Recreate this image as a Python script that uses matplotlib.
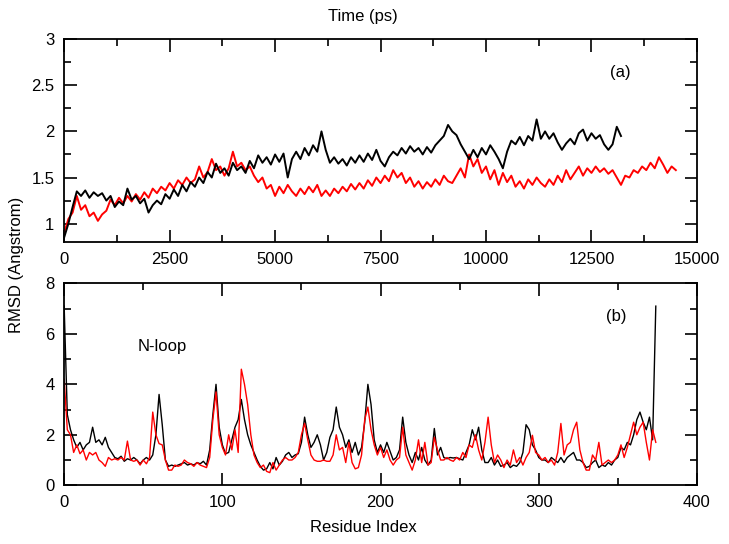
import numpy as np
import matplotlib
matplotlib.use("Agg")
import matplotlib.pyplot as plt
from matplotlib.ticker import MultipleLocator, FormatStrFormatter

plt.rcParams['font.family'] = ['Liberation Sans', 'DejaVu Sans']

# (a) RMSD vs time, one value every 100 ps
rmsd_black = [
    0.85, 1.00, 1.18, 1.35, 1.30, 1.36, 1.28, 1.34, 1.30, 1.33,
    1.25, 1.30, 1.18, 1.24, 1.20, 1.38, 1.26, 1.30, 1.22, 1.27,
    1.12, 1.20, 1.25, 1.21, 1.32, 1.27, 1.37, 1.30, 1.42, 1.35,
    1.45, 1.40, 1.50, 1.44, 1.56, 1.50, 1.65, 1.55, 1.60, 1.52,
    1.66, 1.58, 1.62, 1.55, 1.68, 1.60, 1.74, 1.66, 1.72, 1.64,
    1.75, 1.67, 1.76, 1.50, 1.70, 1.78, 1.70, 1.82, 1.74, 1.85,
    1.78, 2.00, 1.80, 1.66, 1.72, 1.65, 1.70, 1.63, 1.72, 1.66,
    1.74, 1.67, 1.76, 1.69, 1.80, 1.68, 1.62, 1.72, 1.78, 1.74,
    1.82, 1.76, 1.84, 1.78, 1.82, 1.75, 1.83, 1.77, 1.85, 1.90,
    1.95, 2.07, 2.00, 1.96, 1.86, 1.78, 1.70, 1.80, 1.72, 1.82,
    1.75, 1.85, 1.78, 1.70, 1.60, 1.78, 1.90, 1.86, 1.94, 1.85,
    1.95, 1.90, 2.13, 1.92, 2.00, 1.92, 1.98, 1.88, 1.80, 1.87,
    1.92, 1.86, 1.98, 2.02, 1.90, 1.98, 1.92, 1.96, 1.86, 1.80,
    1.86, 2.05, 1.95,
]
rmsd_red = [
    0.90, 1.05, 1.12, 1.30, 1.15, 1.20, 1.08, 1.12, 1.03, 1.10,
    1.14, 1.26, 1.20, 1.28, 1.22, 1.30, 1.24, 1.32, 1.26, 1.34,
    1.28, 1.38, 1.33, 1.40, 1.36, 1.44, 1.38, 1.47, 1.42, 1.50,
    1.44, 1.48, 1.62, 1.50, 1.56, 1.70, 1.58, 1.62, 1.52, 1.60,
    1.78, 1.62, 1.66, 1.58, 1.62, 1.52, 1.45, 1.50, 1.38, 1.42,
    1.30, 1.40, 1.33, 1.42, 1.35, 1.30, 1.38, 1.32, 1.40, 1.34,
    1.42, 1.30, 1.36, 1.30, 1.38, 1.33, 1.40, 1.35, 1.43, 1.37,
    1.44, 1.38, 1.47, 1.41, 1.50, 1.44, 1.52, 1.46, 1.58, 1.50,
    1.55, 1.44, 1.50, 1.40, 1.46, 1.38, 1.45, 1.40, 1.48, 1.42,
    1.52, 1.46, 1.44, 1.52, 1.60, 1.50, 1.75, 1.62, 1.70, 1.55,
    1.62, 1.48, 1.58, 1.42, 1.55, 1.45, 1.52, 1.40, 1.46, 1.38,
    1.48, 1.42, 1.50, 1.44, 1.40, 1.48, 1.42, 1.52, 1.45, 1.58,
    1.48, 1.55, 1.62, 1.52, 1.60, 1.55, 1.62, 1.56, 1.60, 1.54,
    1.58, 1.50, 1.42, 1.52, 1.50, 1.58, 1.55, 1.62, 1.58, 1.66,
    1.60, 1.72, 1.64, 1.55, 1.62, 1.58,
]
time_step = 100

# (b) per-residue RMSD, every second residue
residues = np.arange(0, 375, 2)
res_black = [
    7.1, 2.8, 2.2, 1.8, 1.5, 1.7, 1.4, 1.6, 1.7, 2.3,
    1.7, 1.8, 1.6, 1.9, 1.5, 1.3, 1.1, 1.05, 1.15, 0.95,
    1.05, 1.0, 1.1, 1.0, 0.85, 1.0, 1.1, 1.0, 1.2, 2.0,
    3.6, 2.4, 1.0, 0.75, 0.8, 0.75, 0.8, 0.85, 0.9, 0.8,
    0.85, 0.8, 0.9, 0.85, 0.95, 0.8, 1.4, 2.8, 4.0, 2.3,
    1.6, 1.25, 1.3, 1.8, 2.3, 2.6, 3.4, 2.6, 2.0, 1.6,
    1.3, 1.0, 0.75, 0.6, 0.65, 0.9, 0.65, 1.1, 0.8, 0.95,
    1.2, 1.3, 1.1, 1.2, 1.25, 1.7, 2.7, 2.0, 1.5, 1.7,
    2.0, 1.6, 1.0, 1.3, 1.9, 2.2, 3.1, 2.3, 2.0, 1.5,
    1.8, 1.3, 1.7, 1.2, 1.5, 2.5, 4.0, 3.2, 1.8, 1.3,
    1.6, 1.3, 1.7, 1.35, 1.0, 1.1, 1.4, 2.7, 1.7, 1.2,
    0.9, 1.3, 1.0, 1.5, 1.0, 0.8, 1.0, 2.25, 1.2, 1.5,
    1.1, 1.05, 1.1, 1.08, 1.1, 1.05, 1.0, 1.3, 1.6, 2.2,
    1.8, 2.3, 1.4, 0.9, 0.9, 1.1, 0.8, 1.0, 0.75, 0.8,
    0.9, 0.7, 0.8, 0.75, 0.9, 1.3, 2.4, 2.2, 1.6, 1.4,
    1.1, 1.0, 1.0, 0.9, 1.1, 1.0, 0.9, 1.1, 0.9, 1.1,
    1.2, 1.3, 1.0, 1.0, 0.9, 0.7, 0.75, 0.9, 1.0, 0.7,
    0.8, 0.75, 0.9, 0.8, 1.0, 1.1, 1.5, 1.4, 1.7, 1.6,
    2.0, 2.6, 2.9, 2.5, 2.2, 2.7, 1.8, 7.1,
]
res_red = [
    4.2, 2.2, 2.0, 1.3, 1.6, 1.25, 1.4, 1.0, 1.3, 1.2,
    1.3, 1.0, 0.9, 0.75, 1.1, 1.0, 1.05, 1.0, 1.1, 1.0,
    1.75, 1.0, 0.95, 1.0, 0.8, 1.0, 0.85, 1.1, 2.9, 2.0,
    1.65, 1.6, 1.0, 0.6, 0.6, 0.8, 0.75, 0.8, 1.0, 0.9,
    0.85, 0.75, 0.9, 0.8, 0.75, 0.7, 1.1, 2.6, 3.7, 2.0,
    1.5, 1.2, 2.0, 1.4, 2.2, 1.3, 4.6, 4.0, 3.2, 2.0,
    1.2, 0.9, 0.7, 0.8, 0.55, 0.5, 0.9, 0.6, 0.8, 1.0,
    1.1, 1.0, 1.0, 1.1, 1.3, 2.0, 2.45, 1.8, 1.2, 1.0,
    0.95, 0.95, 1.0, 0.95, 0.95, 1.2, 2.0, 1.4, 1.5, 0.9,
    1.7, 0.9, 0.65, 0.7, 1.2, 2.6, 3.1, 2.2, 1.6, 1.2,
    1.5, 1.1, 1.4, 1.0, 0.8, 1.0, 1.1, 2.3, 1.2, 0.9,
    0.6, 1.0, 1.8, 0.9, 1.7, 0.8, 0.9, 1.9, 1.4, 1.0,
    1.0, 1.1, 1.0, 0.95, 1.1, 1.0, 1.3, 1.1, 1.6, 1.5,
    2.0, 1.4, 1.0, 1.7, 2.7, 1.6, 0.9, 1.2, 1.0, 0.7,
    1.0, 0.8, 1.4, 0.9, 1.1, 0.8, 1.1, 1.3, 1.98, 1.3,
    1.2, 1.0, 1.1, 0.9, 1.0, 0.8, 1.3, 2.45, 1.2, 1.6,
    1.7, 2.2, 2.5, 1.4, 0.9, 0.6, 0.6, 1.2, 1.0, 1.7,
    0.8, 0.9, 1.0, 0.9, 1.0, 1.2, 1.6, 1.1, 1.5, 2.0,
    2.5, 2.0, 2.3, 2.5, 1.7, 1.0, 2.2, 1.7,
]


def style_axes(ax):
    ax.tick_params(which='both', direction='in', top=True, right=True,
                   labelsize=12, width=1.2)
    ax.tick_params(which='major', length=9, pad=7)
    ax.tick_params(which='minor', length=5)
    for sp in ax.spines.values():
        sp.set_linewidth(1.3)


fig = plt.figure(figsize=(7.29, 5.44), dpi=100)
ax1 = fig.add_axes([0.088, 0.555, 0.868, 0.373])
ax2 = fig.add_axes([0.088, 0.108, 0.868, 0.371])

t_black = np.arange(len(rmsd_black)) * time_step
t_red = np.arange(len(rmsd_red)) * time_step
ax1.plot(t_red, rmsd_red, color='#ff0000', lw=1.4)
ax1.plot(t_black, rmsd_black, color='black', lw=1.4)
ax1.set_xlim(0, 15000)
ax1.set_ylim(0.8, 3)
ax1.xaxis.set_major_locator(MultipleLocator(2500))
ax1.xaxis.set_minor_locator(MultipleLocator(1250))
ax1.yaxis.set_major_locator(MultipleLocator(0.5))
ax1.yaxis.set_minor_locator(MultipleLocator(0.25))
ax1.yaxis.set_major_formatter(FormatStrFormatter('%g'))
ax1.text(13175, 2.64, '(a)', fontsize=12, ha='center', va='center')
style_axes(ax1)

ax2.plot(residues, res_black, color='black', lw=1.0)
ax2.plot(residues, res_red, color='#ff0000', lw=1.0)
ax2.set_xlim(0, 400)
ax2.set_ylim(0, 8)
ax2.xaxis.set_major_locator(MultipleLocator(100))
ax2.xaxis.set_minor_locator(MultipleLocator(50))
ax2.yaxis.set_major_locator(MultipleLocator(2))
ax2.yaxis.set_minor_locator(MultipleLocator(1))
ax2.text(349, 6.7, '(b)', fontsize=12, ha='center', va='center')
ax2.text(62, 5.5, 'N-loop', fontsize=12, ha='center', va='center')
style_axes(ax2)

fig.text(0.498, 0.969, 'Time (ps)', fontsize=12, ha='center', va='center')
fig.text(0.498, 0.031, 'Residue Index', fontsize=12, ha='center', va='center')
fig.text(0.023, 0.513, 'RMSD (Angstrom)', fontsize=12, ha='center',
         va='center', rotation=90)

fig.savefig('out.png', dpi=100)
